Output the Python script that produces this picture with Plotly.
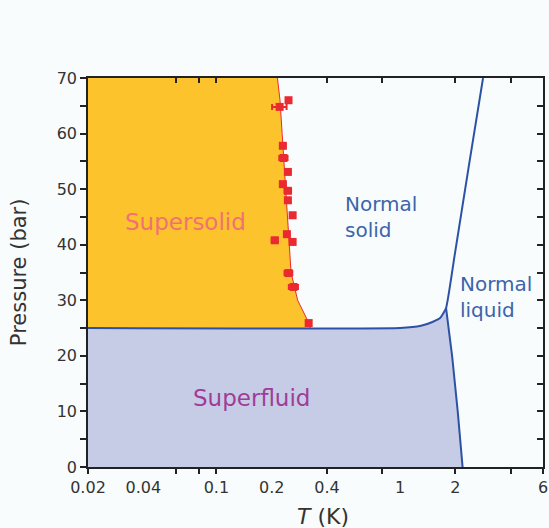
import math
import plotly.graph_objects as go

# Phase boundaries of solid / liquid helium-4 (T in K, P in bar)
melt_T = [0.02, 1.0, 1.3, 1.5, 1.65, 1.78, 1.98, 2.39, 2.83]
melt_P = [25.0, 25.0, 25.4, 26.1, 26.8, 28.6, 38.0, 55.0, 70.0]

lambda_T = [1.78, 1.92, 2.06, 2.19]
lambda_P = [28.6, 20.0, 10.0, 0.0]

# Supersolid onset boundary
ss_T = [0.215, 0.222, 0.228, 0.233, 0.238, 0.245, 0.25, 0.255, 0.277, 0.318, 0.325]
ss_P = [70, 66, 60, 55, 50, 45, 40, 35, 30, 26, 25]

# Measured onset temperatures with horizontal error bars
pts_T = [0.247, 0.221, 0.230, 0.232, 0.245, 0.230, 0.245, 0.245, 0.260,
         0.242, 0.208, 0.260, 0.247, 0.263, 0.318]
pts_P = [66.0, 64.8, 57.8, 55.6, 53.1, 50.9, 49.7, 48.0, 45.3,
         41.9, 40.8, 40.5, 34.9, 32.4, 25.9]
pts_err = [0.006, 0.02, 0.008, 0.012, 0.008, 0.008, 0.01, 0.008, 0.008,
           0.008, 0.008, 0.008, 0.012, 0.015, 0.008]

x_ticks = [0.02, 0.04, 0.1, 0.2, 0.4, 1, 2, 6]
x_ticktext = ["0.02", "0.04", "0.1", "0.2", "0.4", "1", "2", "6"]
x_tickmarks = [0.02, 0.06, 0.08, 0.1, 0.4, 0.8, 2, 4, 6]

T_MIN, T_MAX = 0.02, 6
P_MIN, P_MAX = 0, 70

ORANGE = "#fcc32d"
LAVENDER = "#c6cce6"
BLUE = "#2d52a5"
RED = "#ea2a30"
BG = "#f8fcfd"
AX = "#222222"
TICKFONT = dict(family="DejaVu Sans", size=16, color="#333333")

fig = go.Figure()

# Supersolid region: left of the onset curve, above the superfluid-solid line
sup_x = [T_MIN, T_MIN] + ss_T
sup_y = [25, P_MAX] + ss_P
fig.add_trace(go.Scatter(x=sup_x, y=sup_y, fill="toself", fillcolor=ORANGE,
                         mode="lines", line=dict(width=0), hoverinfo="skip"))

# Superfluid region: below the melting curve and left of the lambda line
melt_low_T = [t for t in melt_T if t <= lambda_T[0]]
melt_low_P = [p for t, p in zip(melt_T, melt_P) if t <= lambda_T[0]]
sf_x = [T_MIN] + melt_low_T + lambda_T[1:]
sf_y = [P_MIN] + melt_low_P + lambda_P[1:]
fig.add_trace(go.Scatter(x=sf_x, y=sf_y, fill="toself", fillcolor=LAVENDER,
                         mode="lines", line=dict(width=0), hoverinfo="skip"))

# Onset curve
fig.add_trace(go.Scatter(x=ss_T, y=ss_P, mode="lines",
                         line=dict(color=RED, width=1), hoverinfo="skip"))

# Melting curve and lambda line
fig.add_trace(go.Scatter(x=melt_T, y=melt_P, mode="lines",
                         line=dict(color=BLUE, width=2, shape="spline", smoothing=0.4),
                         hoverinfo="skip"))
fig.add_trace(go.Scatter(x=lambda_T, y=lambda_P, mode="lines",
                         line=dict(color=BLUE, width=2), hoverinfo="skip"))

# Data points
fig.add_trace(go.Scatter(
    x=pts_T, y=pts_P, mode="markers",
    marker=dict(symbol="square", size=8, color=RED, line=dict(width=0)),
    error_x=dict(type="data", array=pts_err, color=RED, thickness=2, width=3),
    hoverinfo="skip"))

# Tick-mark-only overlay axes (bottom/top/right)
fig.add_trace(go.Scatter(x=[0.1], y=[-100], xaxis="x2", yaxis="y2",
                         mode="markers", marker=dict(opacity=0), hoverinfo="skip"))
fig.add_trace(go.Scatter(x=[0.1], y=[-100], xaxis="x3", yaxis="y",
                         mode="markers", marker=dict(opacity=0), hoverinfo="skip"))

xr = [math.log10(T_MIN), math.log10(T_MAX)]

fig.update_layout(
    width=549, height=528,
    margin=dict(l=88, r=6, t=78, b=61),
    paper_bgcolor=BG, plot_bgcolor=BG,
    showlegend=False,
    xaxis=dict(type="log", range=xr, tickmode="array", tickvals=x_ticks,
               ticktext=x_ticktext, ticks="outside", ticklen=5,
               tickcolor="rgba(0,0,0,0)", automargin=False,
               showgrid=False, zeroline=False, showline=True, linecolor=AX,
               linewidth=1.5, tickfont=TICKFONT, mirror=True),
    xaxis2=dict(type="log", range=xr, overlaying="x", anchor="y", side="bottom",
                tickmode="array", tickvals=x_tickmarks, ticks="outside",
                ticklen=6, tickwidth=1.5, tickcolor=AX, showticklabels=False,
                automargin=False,
                showgrid=False, zeroline=False, showline=False),
    xaxis3=dict(type="log", range=xr, overlaying="x", anchor="y", side="top",
                tickmode="array", tickvals=x_tickmarks, ticks="inside",
                ticklen=5, tickwidth=1.5, tickcolor=AX, showticklabels=False,
                automargin=False,
                showgrid=False, zeroline=False, showline=False),
    yaxis=dict(range=[P_MIN, P_MAX], tickmode="linear", tick0=0, dtick=10,
               ticks="outside", ticklen=6, tickwidth=1.5, tickcolor=AX,
               minor=dict(tickmode="linear", tick0=0, dtick=5, ticks="outside",
                          ticklen=6, tickwidth=1.5, tickcolor=AX),
               automargin=False,
               showgrid=False, zeroline=False, showline=True, linecolor=AX,
               linewidth=1.5, tickfont=TICKFONT, mirror=True),
    yaxis2=dict(range=[P_MIN, P_MAX], overlaying="y", anchor="x", side="right",
                tickmode="linear", tick0=0, dtick=5, ticks="inside", ticklen=6,
                tickwidth=1.5, tickcolor=AX, showticklabels=False,
                automargin=False,
                showgrid=False, zeroline=False, showline=False),
)

def lx(t):
    return math.log10(t)

label_font = "DejaVu Sans"
annotations = [
    dict(x=lx(0.0682), y=44.1, text="Supersolid", xref="x", yref="y",
         font=dict(family=label_font, size=23, color="#f07272"),
         showarrow=False),
    dict(x=lx(0.156), y=12.4, text="Superfluid", xref="x", yref="y",
         font=dict(family=label_font, size=23, color="#a03c98"),
         showarrow=False),
    dict(x=lx(0.49), y=45, text="Normal<br>solid", xref="x", yref="y",
         xanchor="left", align="left",
         font=dict(family=label_font, size=20, color="#3d64aa"),
         showarrow=False),
    dict(x=lx(2.06), y=30.6, text="Normal<br>liquid", xref="x", yref="y",
         xanchor="left", align="left",
         font=dict(family=label_font, size=20, color="#3d64aa"),
         showarrow=False),
    dict(x=0.516, y=-0.128, xref="paper", yref="paper",
         xanchor="center", yanchor="middle",
         text="<i>T</i> (K)", showarrow=False,
         font=dict(family=label_font, size=22, color="#333333")),
    dict(x=-0.1516, y=0.501, xref="paper", yref="paper",
         xanchor="center", yanchor="middle",
         text="Pressure (bar)", textangle=-90, showarrow=False,
         font=dict(family=label_font, size=21, color="#333333")),
]
fig.update_layout(annotations=annotations)

fig.write_html("out.html")
